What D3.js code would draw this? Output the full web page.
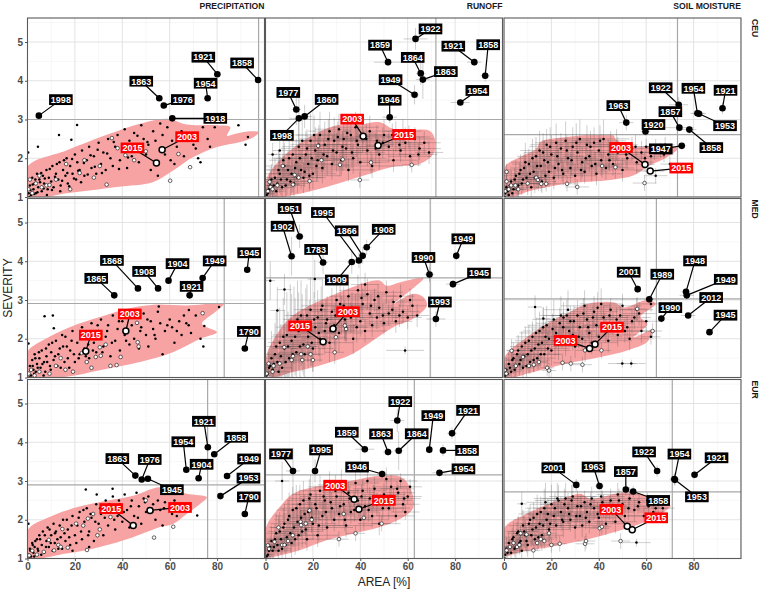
<!DOCTYPE html>
<html><head><meta charset="utf-8">
<script src="https://cdn.jsdelivr.net/npm/d3@7"></script>
<style>body{margin:0;background:#fff}svg{display:block}</style>
</head><body><svg id="c" width="760" height="590"></svg>
<script>
// ---------- DATA ----------
const rowNames = ["CEU","MED","EUR"];
const colNames = ["PRECIPITATION","RUNOFF","SOIL MOISTURE"];
const xTicks = [0,20,40,60,80];
const yTicks = [1,2,3,4,5];
const xDomain = [0,100];
const yDomain = [1,5.62];
const redYears = [2003,2015];

// threshold lines [row][col]
const thrArea = [[97.5,71.9,73.2],[83,69.5,64.3],[76,62.8,71]];
const thrSev  = [[3.0,3.0,2.61],[2.91,3.57,3.03],[2.9,3.16,2.72]];

// density regions (area, severity)
const hull_CEU_PR = [[0,1.78],[16.4,2.2],[34.7,2.63],[47.5,2.89],[58.8,3.02],[67.2,2.87],[80,2.85],[85.6,2.8],[84.2,2.58],[87,2.62],[92.7,2.69],[97.6,2.67],[95.5,2.55],[89.8,2.42],[80,2.29],[70,2.03],[61.6,1.69],[53.1,1.39],[37.6,1.26],[16.4,1.1],[0,1]];
const hull_CEU_RO = [[0.3,1.44],[7.3,2.03],[18.6,2.55],[30,2.85],[39.8,2.87],[48.3,2.93],[53.9,2.76],[62.4,2.74],[69.5,2.7],[71.6,2.46],[70.9,2.12],[65.3,1.86],[53.9,1.78],[39.8,1.52],[25.7,1.26],[11.6,1.05],[1,1]];
const hull_CEU_SM = [[0.4,1.78],[6.8,2.03],[13.8,2.25],[15.3,2.42],[26.6,2.55],[46.3,2.59],[47,2.5],[54.8,2.29],[64.7,2.33],[73.2,2.25],[68.9,2.03],[60.5,1.78],[54.8,1.56],[44.9,1.44],[26.6,1.35],[12.4,1.18],[1.1,1.02]];
const hull_MED_PR = [[0,1.66],[6.5,1.96],[17.8,2.3],[30.5,2.56],[41.8,2.77],[53.1,2.88],[67.2,2.86],[82.8,2.9],[80,2.73],[73.6,2.39],[75.7,2.3],[80,2.17],[72.9,2.0],[61.6,1.66],[47.5,1.4],[30.5,1.19],[16.4,1.02],[0,1]];
const hull_MED_RO = [[0.3,1.53],[5.9,2.22],[11.6,2.6],[21.5,2.94],[32.8,3.24],[42.7,3.46],[48.3,3.5],[51.1,3.37],[56.8,3.46],[66.7,3.57],[61,3.24],[53.9,2.9],[62.4,3.16],[66.7,3.07],[68.1,2.86],[62.4,2.52],[53.9,2.3],[45.5,1.96],[37,1.62],[25.7,1.36],[11.6,1.14],[1.7,1.02]];
const hull_MED_SM = [[0.4,1.53],[9.6,2.04],[18.1,2.39],[26.6,2.65],[35,2.9],[46.3,2.94],[50.5,2.81],[60.5,3.0],[64,2.9],[57.6,2.56],[60.5,2.39],[54.8,2.04],[62.6,2.22],[60.5,1.92],[52,1.7],[40.7,1.53],[26.6,1.36],[12.4,1.14],[1.1,1.02]];
const hull_EUR_PR = [[0,1.73],[9.3,2.07],[20.6,2.32],[33.3,2.49],[44.6,2.62],[55.9,2.84],[67.2,2.67],[75.7,2.58],[72.9,2.41],[67.2,2.15],[61.6,1.9],[55.9,1.81],[44.6,1.55],[30.5,1.3],[16.4,1.13],[0,1.04]];
const hull_EUR_RO = [[0.3,1.81],[5.9,2.32],[11.6,2.67],[20,2.84],[30,2.92],[38.4,3.03],[48.3,3.14],[56.8,3.11],[61,2.84],[62.4,2.32],[58.2,2.07],[48.3,1.81],[37,1.64],[25.7,1.47],[14.4,1.21],[5.9,1.08],[0.3,1.05]];
const hull_EUR_SM = [[0.4,1.81],[6.8,2.07],[15.3,2.32],[26.6,2.58],[32.2,2.67],[36.4,2.54],[43.5,2.62],[52,2.73],[60.5,2.62],[70.3,2.37],[66.1,2.15],[57.6,1.9],[49.2,1.73],[33.6,1.47],[19.5,1.3],[6.8,1.17],[0.4,1.08]];

// small events: precipitation [area, severity]; runoff/soil [area, severity, areaErr, sevErr]
const dots_CEU_PR = [[0.5,1.1],[1,1.3],[1.5,1.05],[2,1.5],[2.5,1.2],[3,1.35],[3.5,1.1],[4,1.6],[4.5,1.25],[5,1.45],[6,1.15],[6.5,1.55],[7,1.35],[8,1.7],[8.5,1.2],[9,1.5],[10,1.4],[10.5,1.8],[11,1.25],[12,1.6],[13,1.45],[13.5,1.9],[14,1.3],[15,1.7],[16,1.55],[16.5,2.0],[17,1.35],[18,1.8],[19,1.6],[20,2.1],[20.5,1.45],[21,1.9],[22,1.7],[23,2.2],[24,1.55],[25,1.95],[26,2.3],[27,1.75],[28,2.05],[29,1.6],[30,2.4],[31,1.85],[32,2.15],[33,1.7],[34,2.5],[35,2.0],[36,1.8],[37,2.3],[38,2.6],[39,1.95],[40,2.2],[41,2.75],[42,1.75],[43,2.45],[44,2.05],[45,2.65],[46,2.3],[47,1.9],[48,2.85],[49,2.5],[50,2.1],[51,2.35],[52,1.7],[53,2.7],[54,2.45],[55,1.55],[56,2.9],[57,2.6],[58,2.1],[59,2.8],[61,2.45],[62,1.85],[63,2.3],[65,2.7],[66,2.05],[68,2.55],[70,2.35],[72,2.0],[73,1.9],[74,2.8],[76,2.5],[77,2.3],[79,2.8],[89,2.85],[93,2.55],[92,2.35],[0.3,2.15],[4.4,2.3],[13.3,2.6],[18.5,2.48],[20.9,2.86]];
const more_CEU_PR = [[0.8,1.0],[1.2,1.18],[2.2,1.32],[2.8,1.08],[3.3,1.45],[4.2,1.12],[5.3,1.38],[5.8,1.62],[6.8,1.22],[7.3,1.48],[8.2,1.05],[9.4,1.72],[10.3,1.18],[11.6,1.52],[12.4,1.85],[13.8,1.15],[14.6,1.42],[15.4,1.95],[16.8,1.62],[17.6,1.28],[18.8,1.98],[19.6,1.48],[21.4,1.68],[22.6,1.38],[23.8,1.88],[25.4,1.58],[26.6,2.08],[28.4,1.78],[29.6,2.22],[31.4,1.62],[33.6,2.12],[36.4,2.42],[38.6,1.72],[42.4,2.02],[46.4,2.58],[50.6,2.42],[56.4,2.22],[60.4,1.95],[64.4,2.48],[71,2.25]];
const white_CEU_PR = [[0.4,1.2],[1,1.45],[2,1.1],[3.5,1.35],[5,1.55],[6,1.25],[8,1.3],[9.3,1.31],[12,1.45],[16.3,1.85],[18,1.2],[22,1.62],[24,1.95],[30.5,1.8],[33.4,1.32],[35.6,2.52],[38,2.26],[41.3,2.08],[49.9,2.18],[60.2,1.42],[63.7,2.11],[68.6,1.77],[45,1.95],[28,1.5]];
const dots_CEU_RO = [[1,1.1,3,0.3],[2,1.3,4,0.4],[3,1.2,5,0.3],[4,1.5,6,0.5],[5,1.35,4,0.4],[6,1.6,7,0.5],[7,1.25,5,0.3],[8,1.8,8,0.6],[9,1.45,6,0.4],[10,2.0,7,0.7],[11,1.6,9,0.5],[12,1.35,6,0.4],[13,1.9,8,0.6],[14,2.3,7,0.8],[15,1.7,10,0.5],[16,1.5,8,0.4],[17,2.1,9,0.6],[18,1.85,11,0.5],[19,2.45,8,0.7],[20,1.6,10,0.4],[21,2.2,12,0.6],[22,1.95,9,0.5],[23,2.6,10,0.6],[24,1.75,12,0.4],[25,2.35,11,0.6],[26,2.05,13,0.5],[27,2.7,9,0.5],[28,1.85,12,0.4],[29,2.45,14,0.6],[30,2.15,11,0.5],[31,2.75,10,0.4],[32,1.95,13,0.4],[33,2.5,12,0.5],[34,2.25,15,0.5],[35,1.7,11,0.3],[36,2.6,13,0.5],[37,2.0,14,0.4],[38,2.8,10,0.4],[39,2.35,15,0.5],[40,1.9,12,0.4],[41,2.55,13,0.4],[43,2.2,14,0.4],[44,2.7,11,0.4],[45,1.8,13,0.3],[47,2.45,12,0.4],[48,2.1,15,0.4],[50,2.6,11,0.4],[52,2.3,13,0.4],[54,1.95,10,0.3],[55,2.55,12,0.4],[57,2.2,11,0.3],[59,2.4,10,0.4],[61,2.05,9,0.3],[63,2.5,8,0.3],[65,2.25,9,0.3],[67,2.4,7,0.3],[69,2.15,6,0.3],[58,2.7,8,0.3],[6,2.2,3,0.4],[3,2.1,2,0.3]];
const more_CEU_RO = [[0.5,1.05,2,0.2],[1.5,1.2,3,0.3],[2.5,1.45,4,0.4],[3.5,1.3,5,0.4],[4.5,1.15,4,0.3],[5.5,1.7,6,0.5],[6.5,1.45,7,0.4],[7.5,1.95,6,0.6],[8.5,1.3,8,0.4],[9.5,1.7,9,0.5],[10.5,1.4,10,0.4],[11.5,2.1,8,0.6],[12.5,1.75,11,0.5],[13.5,1.5,12,0.4],[14.5,2.0,10,0.5],[15.5,2.45,8,0.6],[16.5,1.65,12,0.4],[17.5,2.25,11,0.5],[18.5,1.55,13,0.4],[19.5,2.0,12,0.5],[20.5,2.6,10,0.5],[21.5,1.8,14,0.4],[22.5,2.35,12,0.5],[24.5,2.1,14,0.4],[26.5,2.5,12,0.5],[28.5,2.2,15,0.4],[30.5,2.55,13,0.4],[32.5,2.3,15,0.4],[34.5,2.65,12,0.4],[36.5,2.15,14,0.4],[38.5,2.45,13,0.4],[42.5,2.5,12,0.4],[46.5,2.25,13,0.4],[49.5,2.4,12,0.4],[53.5,2.6,10,0.3],[56.5,2.35,10,0.3],[60.5,2.55,9,0.3],[64.5,2.1,8,0.3]];
const white_CEU_RO = [[1.7,1.39,2,0.2],[2.1,1.26,2,0.2],[1,1.15,1,0.1],[3,1.2,2,0.2],[7.3,1.8,3,0.3],[12.3,1.57,3,0.3],[11.6,1.32,3,0.2],[18.6,1.41,4,0.2],[22.2,2.32,4,0.3],[23.6,1.95,4,0.3],[31.4,1.83,4,0.3],[32.6,1.97,4,0.3],[39.8,1.44,4,0.2],[44.5,1.89,4,0.3],[61.7,1.83,4,0.2],[5,1.3,2,0.2],[14,1.5,3,0.2]];
const dots_CEU_SM = [[0.5,1.1,2,0.2],[1,1.25,3,0.3],[2,1.05,2,0.2],[3,1.4,4,0.3],[4,1.2,3,0.3],[5,1.55,5,0.4],[6,1.3,4,0.3],[7,1.7,6,0.4],[8,1.45,5,0.3],[9,1.9,6,0.5],[10,1.35,5,0.3],[11,1.6,7,0.4],[12,2.0,6,0.5],[13,1.5,8,0.4],[14,1.8,7,0.4],[15,2.2,8,0.5],[16,1.4,6,0.3],[17,1.95,9,0.5],[18,2.35,7,0.4],[19,1.65,8,0.4],[20,2.1,10,0.5],[21,1.5,8,0.3],[22,2.4,9,0.5],[23,1.85,10,0.4],[24,2.25,11,0.4],[25,1.6,9,0.3],[26,2.45,10,0.5],[27,2.0,12,0.4],[28,1.75,10,0.4],[29,2.3,11,0.5],[30,1.55,9,0.3],[31,2.15,12,0.4],[32,2.5,10,0.5],[33,1.9,11,0.4],[34,1.65,10,0.3],[35,2.35,12,0.5],[36,2.05,11,0.4],[37,1.8,13,0.4],[38,2.4,10,0.4],[39,1.6,11,0.3],[40,2.2,12,0.4],[41,1.95,10,0.4],[42,2.5,11,0.5],[43,1.75,12,0.3],[44,2.1,9,0.4],[45,2.3,10,0.4],[46,1.85,11,0.3],[48,2.15,10,0.4],[50,1.7,9,0.3],[52,2.0,8,0.3],[54,2.25,8,0.3],[56,1.9,7,0.3],[58,2.15,7,0.3],[60,2.3,6,0.2],[62,2.05,6,0.2],[64,2.3,5,0.2],[66,2.2,5,0.2],[68,2.35,4,0.2],[70,1.85,4,0.2],[64,1.55,5,0.2]];
const more_CEU_SM = [[0.3,1.0,1,0.1],[1.5,1.15,2,0.2],[2.5,1.3,3,0.2],[3.5,1.1,3,0.2],[4.5,1.45,4,0.3],[5.5,1.2,4,0.2],[6.5,1.6,5,0.3],[7.5,1.35,5,0.3],[8.5,1.75,6,0.4],[9.5,1.5,6,0.3],[10.5,1.85,7,0.4],[11.5,1.25,6,0.3],[12.5,1.65,8,0.4],[13.5,2.05,8,0.5],[14.5,1.45,7,0.3],[15.5,1.8,9,0.4],[16.5,2.15,8,0.5],[17.5,1.55,9,0.3],[18.5,1.9,10,0.4],[19.5,2.3,9,0.5],[21.5,1.75,10,0.4],[22.5,2.05,11,0.4],[24.5,1.7,10,0.3],[26.5,2.2,11,0.4],[28.5,1.95,12,0.4],[30.5,2.4,11,0.5],[32.5,1.7,10,0.3],[34.5,2.0,12,0.4],[36.5,2.3,11,0.4],[38.5,1.85,12,0.3],[40.5,2.45,11,0.4],[44.5,1.95,10,0.3],[47.5,2.35,9,0.4],[51.5,2.1,8,0.3],[55.5,2.3,7,0.3],[59.5,2.0,6,0.2],[63.5,2.15,5,0.2],[67.5,2.1,4,0.2]];
const white_CEU_SM = [[0.5,1.15,1,0.1],[1.1,1.65,2,0.2],[1.1,1.4,2,0.2],[2,1.2,2,0.1],[3,1.3,2,0.2],[4.8,1.3,3,0.2],[6,1.2,3,0.2],[10,1.35,4,0.2],[13.6,1.5,4,0.3],[14.3,1.44,4,0.2],[15.7,1.34,4,0.2],[17.8,1.34,4,0.2],[26.6,1.34,5,0.2],[30.9,1.26,5,0.2],[41.4,1.8,5,0.3],[47,1.77,5,0.3],[59.3,1.36,5,0.2]];
const dots_MED_PR = [[0.5,1.1],[1,1.3],[1.5,1.05],[2,1.45],[2.5,1.2],[3,1.6],[3.5,1.15],[4,1.35],[5,1.5],[5.5,1.25],[6,1.7],[7,1.4],[7.5,1.15],[8,1.55],[9,1.85],[9.5,1.3],[10,1.65],[11,1.45],[12,1.95],[13,1.6],[14,1.25],[15,1.8],[16,2.05],[17,1.5],[18,1.7],[19,2.2],[20,1.4],[21,1.9],[22,1.6],[23,2.3],[24,1.75],[25,2.05],[26,1.5],[27,2.4],[28,1.9],[29,1.65],[30,2.2],[31,2.5],[32,1.8],[33,2.05],[34,2.35],[35,1.55],[36,2.6],[37,1.95],[38,2.25],[39,1.7],[40,2.45],[41,2.1],[42,2.7],[43,1.85],[44,2.35],[45,2.0],[46,2.55],[47,1.75],[48,2.3],[49,2.65],[50,2.1],[51,1.8],[52,2.45],[53,2.25],[54,2.0],[55,2.7],[56,2.4],[57,1.6],[58,2.2],[60,2.5],[61,2.3],[62,1.9],[64,2.45],[65,2.1],[66,2.6],[68,2.35],[69,2.15],[71,2.6],[73,2.0],[74.2,1.8],[74.6,2.33],[80.8,2.82],[68.1,2.74],[55.4,2.83],[7.2,2.58],[10.7,2.6],[11.1,2.27],[0.4,1.88]];
const more_MED_PR = [[0.8,1.0],[1.2,1.2],[2.2,1.3],[2.8,1.1],[3.3,1.5],[4.3,1.25],[4.8,1.65],[6.3,1.35],[6.8,1.05],[7.8,1.75],[8.3,1.4],[9.8,1.2],[10.4,1.9],[11.6,1.55],[12.6,1.3],[13.6,1.75],[14.6,2.1],[15.6,1.4],[16.6,1.8],[17.6,1.25],[18.6,1.95],[19.6,1.6],[21.6,1.5],[22.6,2.15],[24.6,1.55],[25.6,1.85],[27.6,1.7],[29.6,2.35],[31.6,1.65],[33.6,2.2],[35.6,1.9],[38.6,2.45],[41.6,1.95],[44.6,2.6],[47.6,2.2],[50.6,2.5],[53.6,2.1],[59,2.35],[63,2.2],[67,2.4]];
const white_MED_PR = [[0.5,1.1],[1.5,1.2],[3,1.05],[5,1.15],[9.3,1.1],[12,1.3],[14,1.5],[16,1.2],[19.2,1.15],[22.9,1.63],[25,1.4],[28.8,1.53],[30.5,1.78],[30.9,1.56],[33,1.85],[35,1.3],[37.6,1.32],[39.3,1.53],[46.2,2.41],[46.5,1.91],[46.9,1.8],[73.9,2.66],[27,1.25]];
const dots_MED_RO = [[1,1.1,2,0.3],[2,1.3,3,0.5],[3,1.2,3,0.6],[4,1.6,4,0.8],[5,1.4,4,0.7],[6,1.9,5,0.9],[7,1.25,4,0.6],[8,1.75,5,1.0],[9,2.1,6,1.1],[10,1.5,5,0.8],[11,1.95,6,1.2],[12,2.35,6,1.0],[13,1.65,7,0.9],[14,2.2,6,1.0],[15,2.6,7,0.9],[16,1.85,8,0.8],[17,2.4,7,0.9],[18,2.05,8,0.8],[19,2.75,7,0.8],[20,1.75,9,0.6],[21,2.3,8,0.7],[22,2.55,9,0.7],[23,2.0,8,0.6],[24,2.85,9,0.7],[25,2.2,10,0.6],[26,2.5,9,0.6],[27,1.9,10,0.5],[28,2.7,9,0.6],[29,2.35,10,0.5],[30,3.0,8,0.5],[31,2.15,10,0.5],[32,2.6,9,0.5],[33,2.85,10,0.5],[34,2.3,9,0.4],[35,3.1,8,0.4],[36,2.55,10,0.4],[37,2.0,9,0.4],[38,2.75,10,0.4],[39,3.25,8,0.4],[40,2.45,9,0.4],[41,2.9,10,0.4],[42,2.2,9,0.3],[43,3.15,8,0.4],[44,2.65,9,0.3],[45,2.35,8,0.3],[46,3.0,8,0.3],[47,2.55,9,0.3],[48,2.8,8,0.3],[50,2.4,8,0.3],[51,3.2,7,0.3],[52,2.65,8,0.3],[54,2.95,7,0.3],[55,2.45,7,0.3],[57,3.1,6,0.3],[58,2.7,7,0.3],[60,2.55,6,0.3],[62,2.85,6,0.3],[64,2.6,5,0.3],[42,3.4,6,0.3],[8,3.27,3,0.4],[20.8,3.54,3,0.5],[5,2.73,3,0.6],[58.9,1.7,8,0.1],[2,3.5,2,0.5]];
const more_MED_RO = [[0.5,1.05,2,0.3],[1.5,1.25,3,0.5],[2.5,1.5,3,0.7],[3.5,1.35,4,0.6],[4.5,1.8,4,0.9],[5.5,1.15,5,0.5],[6.5,1.55,5,0.8],[7.5,2.05,5,1.0],[8.5,1.4,6,0.7],[9.5,1.8,6,0.9],[10.5,2.3,6,1.1],[11.5,1.6,7,0.8],[12.5,2.05,7,1.0],[13.5,2.5,6,1.0],[14.5,1.8,8,0.8],[15.5,2.25,8,0.9],[16.5,1.6,8,0.6],[17.5,2.6,7,0.8],[18.5,2.3,8,0.7],[19.5,1.9,9,0.6],[20.5,2.5,8,0.7],[22.5,2.15,9,0.6],[23.5,2.75,9,0.6],[25.5,2.4,10,0.6],[27.5,2.2,10,0.5],[29.5,2.6,10,0.5],[31.5,2.9,9,0.5],[33.5,2.5,10,0.5],[36.5,2.8,9,0.4],[38.5,2.3,10,0.4],[40.5,3.05,9,0.4],[44.5,2.85,9,0.3],[47.5,3.1,8,0.3],[49.5,2.6,8,0.3],[53.5,2.75,7,0.3],[56.5,2.6,7,0.3],[61,3.0,6,0.3]];
const white_MED_RO = [[0.5,1.1,1,0.2],[1.3,1.36,2,0.3],[3.4,1.3,2,0.3],[6,1.36,3,0.3],[7.9,1.78,3,0.4],[11,1.45,4,0.3],[11.6,1.55,3,0.4],[15,1.6,4,0.3],[15.5,1.45,4,0.3],[17.8,1.8,4,0.4],[19,1.6,4,0.3],[20,1.45,4,0.3],[29.2,1.65,4,0.3],[29.7,2.04,4,0.4],[33.5,2.34,4,0.4],[34,2.25,4,0.3],[3,1.15,2,0.2]];
const dots_MED_SM = [[0.5,1.05,2,0.2],[1,1.2,3,0.3],[2,1.35,3,0.3],[3,1.15,4,0.2],[4,1.5,4,0.4],[5,1.3,5,0.3],[6,1.7,5,0.4],[7,1.45,6,0.3],[8,1.25,5,0.3],[9,1.9,6,0.4],[10,1.6,6,0.4],[11,1.4,7,0.3],[12,2.05,7,0.4],[13,1.75,7,0.4],[14,1.5,8,0.3],[15,2.2,7,0.5],[16,1.9,8,0.4],[17,1.6,8,0.4],[18,2.35,8,0.5],[19,2.0,9,0.4],[20,1.7,8,0.4],[21,2.5,9,0.5],[22,2.15,9,0.4],[23,1.85,10,0.4],[24,2.6,9,0.5],[25,2.3,10,0.4],[26,1.95,9,0.4],[27,2.75,10,0.5],[28,2.45,10,0.4],[29,2.1,11,0.4],[30,1.8,10,0.3],[31,2.6,11,0.4],[32,2.3,10,0.4],[33,2.0,11,0.3],[34,2.85,10,0.4],[35,2.5,11,0.4],[36,2.15,10,0.3],[37,1.9,11,0.3],[38,2.7,10,0.4],[39,2.35,11,0.3],[40,2.05,10,0.3],[41,2.9,9,0.4],[42,2.55,10,0.3],[43,2.2,9,0.3],[44,1.95,10,0.3],[45,2.75,9,0.3],[46,2.4,9,0.3],[48,2.1,9,0.3],[49,2.6,8,0.3],[50,2.85,8,0.3],[52,2.3,8,0.3],[53,2.0,8,0.3],[55,2.55,7,0.3],[56,2.75,7,0.3],[58,2.2,6,0.3],[60,2.45,6,0.3],[62,2.9,5,0.2],[13.1,2.82,3,0.3],[16.6,2.52,3,0.3],[25.1,2.55,3,0.4],[49.9,1.36,6,0.1],[53.7,1.36,6,0.1],[62,2.05,4,0.2]];
const more_MED_SM = [[0.3,1.0,1,0.1],[1.5,1.1,2,0.2],[2.5,1.25,3,0.2],[3.5,1.45,3,0.3],[4.5,1.2,4,0.2],[5.5,1.6,4,0.3],[6.5,1.35,5,0.3],[7.5,1.8,5,0.4],[8.5,1.55,6,0.3],[9.5,1.3,6,0.3],[10.5,1.95,6,0.4],[11.5,1.7,7,0.3],[12.5,1.45,7,0.3],[13.5,2.15,7,0.4],[14.5,1.85,8,0.4],[15.5,1.6,8,0.3],[16.5,2.3,8,0.5],[17.5,2.05,8,0.4],[18.5,1.75,9,0.4],[20.5,2.25,9,0.4],[21.5,1.95,9,0.4],[23.5,2.4,10,0.4],[24.5,2.05,10,0.3],[26.5,2.6,10,0.4],[27.5,2.2,11,0.4],[29.5,2.45,11,0.4],[31.5,2.05,10,0.3],[33.5,2.65,10,0.4],[35.5,2.3,11,0.3],[37.5,2.55,10,0.3],[39.5,2.8,10,0.4],[42.5,2.35,9,0.3],[44.5,2.6,9,0.3],[47.5,2.5,9,0.3],[51,2.2,8,0.3],[54,2.45,7,0.3],[57,2.65,7,0.3]];
const white_MED_SM = [[0.3,1.19,1,0.1],[1,1.1,1,0.1],[3.2,1.69,2,0.3],[5,1.3,2,0.2],[8,1.53,3,0.2],[10.5,1.3,3,0.2],[12.6,1.33,3,0.2],[14.7,1.4,3,0.2],[18.2,1.25,3,0.2],[19,1.18,3,0.2],[24.7,1.38,4,0.2],[28.2,1.36,4,0.2],[33.1,1.33,4,0.2],[34.2,1.7,4,0.3],[41.1,1.7,4,0.2],[56.2,2.77,4,0.3],[62.7,2.2,4,0.2]];
const dots_EUR_PR = [[0.5,1.1],[1,1.25],[1.5,1.05],[2,1.4],[2.5,1.15],[3,1.3],[4,1.5],[4.5,1.2],[5,1.6],[6,1.35],[6.5,1.7],[7,1.15],[8,1.45],[8.5,1.8],[9,1.3],[10,1.6],[11,1.9],[11.5,1.4],[12,1.7],[13,1.25],[14,1.55],[15,2.0],[16,1.45],[17,1.75],[18,1.35],[19,2.1],[20,1.6],[21,1.85],[22,2.2],[23,1.5],[24,1.95],[25,2.3],[26,1.7],[27,2.05],[28,1.45],[29,2.4],[30,1.9],[31,2.15],[32,1.6],[33,2.5],[34,1.85],[35,2.25],[36,2.6],[37,1.75],[38,2.1],[39,2.4],[40,1.95],[41,2.65],[42,2.25],[43,1.8],[44,2.5],[45,2.1],[46,2.7],[47,2.35],[48,1.9],[49,2.55],[50,2.2],[51,2.6],[53,2.4],[54,2.0],[55,2.5],[56,2.25],[57,1.85],[58,2.45],[60,2.3],[62,2.5],[63,2.1],[65,2.35],[24.6,2.78],[35.9,2.8],[29.2,2.65],[71.6,2.11],[0.4,1.9],[19,1.2],[26,1.3]];
const more_EUR_PR = [[0.8,1.0],[1.2,1.2],[2.2,1.35],[2.8,1.05],[3.3,1.45],[4.3,1.25],[5.3,1.5],[5.8,1.1],[7.3,1.6],[7.8,1.3],[9.3,1.75],[9.8,1.4],[10.6,1.2],[11.6,1.65],[12.6,1.5],[13.6,1.85],[14.6,1.25],[15.6,1.65],[16.6,2.0],[17.6,1.55],[18.6,1.85],[20.6,1.4],[21.6,2.05],[22.6,1.7],[23.6,2.25],[25.6,1.6],[26.6,2.15],[28.6,1.95],[30.6,2.3],[32.6,2.05],[34.6,2.4],[36.6,2.0],[38.6,2.5],[40.6,2.2],[43.6,2.35],[46.6,2.05],[49.6,2.45],[52.6,2.2],[57.6,2.3],[61,2.15]];
const white_EUR_PR = [[0.7,1.08],[2,1.2],[4,1.1],[6.9,1.17],[9,1.48],[11.2,1.21],[13,1.35],[14,1.3],[14.7,1.76],[20.5,1.9],[23.5,1.85],[25.1,1.22],[25.5,2.03],[27.7,2.15],[29.5,1.6],[30.5,1.75],[35,2.07],[49.9,2.5],[53.4,1.54],[61.5,1.82],[17,1.28]];
const dots_EUR_RO = [[1,1.1,2,0.2],[2,1.3,3,0.3],[3,1.2,3,0.3],[4,1.5,4,0.4],[5,1.35,4,0.3],[6,1.7,5,0.5],[7,1.25,4,0.3],[8,1.9,6,0.5],[9,1.55,5,0.4],[10,2.1,6,0.6],[11,1.4,6,0.4],[12,1.8,7,0.5],[13,2.3,7,0.6],[14,1.6,8,0.4],[15,2.05,8,0.5],[16,2.5,7,0.5],[17,1.75,9,0.4],[18,2.2,9,0.5],[19,2.65,8,0.5],[20,1.9,10,0.4],[21,2.4,10,0.5],[22,1.6,9,0.3],[23,2.75,9,0.4],[24,2.1,11,0.4],[25,2.5,10,0.4],[26,1.8,11,0.3],[27,2.85,9,0.4],[28,2.3,11,0.4],[29,2.0,12,0.3],[30,2.6,11,0.4],[31,2.15,12,0.3],[32,2.9,10,0.4],[33,2.4,12,0.3],[34,1.85,11,0.3],[35,2.7,11,0.3],[36,2.2,12,0.3],[38,2.95,10,0.3],[39,2.5,11,0.3],[40,2.0,12,0.3],[41,2.75,10,0.3],[42,2.35,11,0.3],[43,3.0,9,0.3],[44,2.55,10,0.3],[45,2.1,10,0.3],[46,2.8,9,0.3],[47,2.4,10,0.3],[48,1.9,9,0.3],[50,2.65,9,0.3],[51,3.05,8,0.3],[52,2.3,9,0.3],[53,2.85,8,0.3],[54,2.5,8,0.3],[55,2.1,8,0.2],[56,2.7,7,0.2],[57,3.0,7,0.2],[58,2.4,7,0.2],[60,2.6,6,0.2],[61,2.85,5,0.2],[59,2.2,6,0.2],[7,3.0,3,0.5]];
const more_EUR_RO = [[0.5,1.05,2,0.2],[1.5,1.2,3,0.3],[2.5,1.45,3,0.4],[3.5,1.3,4,0.3],[4.5,1.65,4,0.5],[5.5,1.2,5,0.3],[6.5,1.5,5,0.4],[7.5,1.8,6,0.5],[8.5,1.35,6,0.4],[9.5,2.0,6,0.5],[10.5,1.65,7,0.5],[11.5,2.25,7,0.6],[12.5,1.5,8,0.4],[13.5,1.95,8,0.5],[14.5,2.4,7,0.5],[15.5,1.7,9,0.4],[16.5,2.15,9,0.5],[17.5,1.5,10,0.3],[18.5,2.55,8,0.5],[19.5,2.05,10,0.4],[21.5,2.3,10,0.4],[22.5,1.85,11,0.4],[24.5,2.6,10,0.4],[25.5,2.2,11,0.4],[27.5,2.45,11,0.4],[29.5,2.75,10,0.4],[31.5,2.35,12,0.3],[33.5,2.0,11,0.3],[35.5,2.55,11,0.3],[37.5,2.25,12,0.3],[40.5,2.6,11,0.3],[43.5,2.25,10,0.3],[45.5,2.6,10,0.3],[49.5,2.3,9,0.3],[52.5,2.55,8,0.3],[55.5,2.8,7,0.2],[58.5,2.55,7,0.2]];
const white_EUR_RO = [[1,1.34,2,0.2],[1.5,1.25,2,0.2],[3.8,1.43,2,0.2],[5.5,1.8,3,0.3],[7,1.35,3,0.2],[8,1.35,3,0.2],[9.5,1.45,3,0.2],[11.5,1.6,3,0.3],[14.8,1.95,4,0.3],[15,1.86,4,0.3],[17,1.9,4,0.3],[18.6,2.24,4,0.3],[19.5,2.0,4,0.3],[31,1.5,4,0.2],[33,2.15,4,0.3],[38,1.65,4,0.2],[41.5,2.05,4,0.3],[49,1.9,4,0.2]];
const dots_EUR_SM = [[0.5,1.1,2,0.2],[1,1.25,3,0.3],[2,1.4,3,0.3],[3,1.15,4,0.2],[4,1.55,4,0.4],[5,1.3,5,0.3],[6,1.7,5,0.4],[7,1.45,6,0.3],[7.5,2.41,2,0.3],[8,1.85,6,0.4],[9,1.6,6,0.4],[10,1.35,7,0.3],[11,2.0,7,0.4],[12,1.75,7,0.4],[13,1.5,8,0.3],[14,2.15,8,0.5],[15,1.9,8,0.4],[16,1.6,9,0.4],[17,2.3,8,0.5],[18,2.0,9,0.4],[19,1.75,9,0.4],[20,2.4,9,0.5],[21,2.1,10,0.4],[22,1.85,9,0.4],[23,2.5,10,0.4],[24,2.2,10,0.4],[25,1.95,11,0.4],[26,2.55,10,0.4],[27,2.3,11,0.4],[28,2.0,10,0.3],[29,2.6,10,0.4],[30,1.8,11,0.3],[31,2.35,11,0.4],[32,2.1,12,0.3],[33,1.85,11,0.3],[34,2.45,11,0.3],[35,2.2,12,0.3],[36,1.95,11,0.3],[37,2.55,10,0.3],[38,2.3,11,0.3],[40,2.05,10,0.3],[41,2.6,10,0.3],[42,2.35,10,0.3],[43,1.9,10,0.3],[45,2.5,9,0.3],[46,2.2,9,0.3],[47,1.95,9,0.3],[48,2.65,9,0.3],[50,2.4,8,0.3],[51,2.1,8,0.3],[53,2.55,8,0.3],[55,2.25,7,0.3],[57,2.45,7,0.2],[59,2.1,7,0.2],[61,2.35,6,0.2],[63,2.2,6,0.2],[65,2.4,5,0.2],[67,2.3,5,0.2],[55.9,1.41,6,0.1]];
const more_EUR_SM = [[0.3,1.0,1,0.1],[1.5,1.15,2,0.2],[2.5,1.3,3,0.2],[3.5,1.5,3,0.3],[4.5,1.25,4,0.2],[5.5,1.65,4,0.3],[6.5,1.4,5,0.3],[7.5,1.2,5,0.2],[8.5,1.7,6,0.4],[9.5,1.45,6,0.3],[10.5,1.9,6,0.4],[11.5,1.6,7,0.3],[12.5,2.05,7,0.4],[13.5,1.8,7,0.4],[14.5,1.55,8,0.3],[15.5,2.2,8,0.4],[16.5,1.85,8,0.4],[17.5,2.45,8,0.5],[18.5,2.15,9,0.4],[19.5,1.9,9,0.4],[21.5,2.3,9,0.4],[22.5,2.55,10,0.4],[24.5,2.0,10,0.3],[25.5,2.4,10,0.4],[27.5,2.15,11,0.4],[28.5,2.5,10,0.4],[30.5,2.1,11,0.3],[32.5,2.35,11,0.3],[34.5,2.05,11,0.3],[36.5,2.4,10,0.3],[39.5,2.15,10,0.3],[41.5,2.45,10,0.3],[44.5,2.3,9,0.3],[48.5,2.5,8,0.3],[52.5,2.3,8,0.3],[56.5,2.35,7,0.2],[60.5,2.5,6,0.2],[64,2.3,5,0.2]];
const white_EUR_SM = [[1.1,1.21,1,0.1],[2.5,1.3,2,0.2],[4,1.4,2,0.2],[5.5,1.3,2,0.2],[6.5,1.35,2,0.2],[7,1.65,3,0.2],[9.5,1.62,3,0.2],[12.4,1.21,3,0.2],[14,1.4,3,0.2],[15.5,1.5,3,0.2],[17,1.45,3,0.2],[19,1.65,3,0.2],[20,1.35,3,0.2],[23.5,1.38,3,0.2],[34.2,1.38,4,0.2],[34.6,1.45,4,0.2],[40.4,1.78,4,0.2],[41.3,1.82,4,0.2],[49.2,1.45,4,0.2]];

// labelled events [year, area, severity, areaErr, sevErr]
const ev_CEU_PR = [[1998,4.8,3.10],[1863,55.6,3.55],[1976,57.5,3.36],[1921,80.1,4.17],[1954,76,3.55],[1858,97.3,4.02],[1918,61.1,3.03],[2015,54.4,1.88],[2003,56.8,2.22]];
const ev_CEU_RO = [[1922,63.3,5.08,5,0.28],[1859,51.7,4.48,6,0.1],[1864,65.5,4.19,2,0.3],[1863,66.4,4.03,3,0.5],[1921,88.1,4.48,3,0.1],[1858,92.7,4.13,2,0.15],[1949,62.9,3.64,2,0.25],[1954,82.2,3.44,4,0.05],[1977,13,3.26,2,0.4],[1860,16.5,3.08,3,0.3],[1998,14.1,3.03,4,0.75],[1946,52.4,3.06,3,0.15],[2003,41.2,2.57,3,0.2],[2015,47.5,2.33,5,0.2]];
const ev_CEU_SM = [[1922,73.7,3.38,4,0.2],[1954,81.6,3.16,3,0.1],[1921,92.2,3.29,1,0.15],[1857,74,2.79,6,0.1],[1953,82.3,3.15,3,0.1],[1963,51.6,2.92,3,0.2],[1920,59.7,2.69,2,0.1],[1858,78.2,2.74,3,0.1],[1947,75,2.32,2,0.05],[2003,59.5,1.84,4,0.2],[2015,61.7,1.67,6,0.05]];
const ev_MED_PR = [[1868,46.6,3.30],[1865,36.6,3.12],[1908,55.1,3.30],[1904,59.5,3.50],[1921,68.4,3.12],[1949,73.9,3.57],[1945,92.7,3.78],[1790,91.7,1.75],[2003,41.5,2.2],[2015,24.6,1.68]];
const ev_MED_RO = [[1951,14.4,4.64,2,0.3],[1902,11,4.13,2,0.5],[1995,39.4,4.02,1,0.2],[1866,41,4.14,1,0.2],[1908,42.7,4.36,2,0.2],[1783,24.3,3.97,2,0.3],[1909,36.4,3.98,2,0.3],[1990,69.2,3.66,2,0.2],[1949,80.5,4.14,1,0.1],[1945,79.1,3.41,3,0.1],[1993,71.9,2.51,4,0.2],[2003,28.5,2.26,2,0.2],[2015,24.3,1.92,2,0.2]];
const ev_MED_SM = [[2001,56.4,3.28,1,0.1],[1989,61.3,3.02,2,0.1],[1948,76.8,3.21,2,0.1],[1949,77.1,3.12,3,0.1],[2012,77.7,2.6,3,0.05],[1990,66.4,2.52,1,0.1],[1945,86.7,2.17,1,0.05],[2015,38.4,1.86,2,0.1],[2003,36.1,1.75,2,0.1]];
const ev_EUR_PR = [[1921,76.1,3.87],[1858,78.8,3.69],[1954,67,3.29],[1904,72.2,3.07],[1863,45.5,3.14],[1976,48.2,3.04],[1945,50.8,3.06],[1949,84.2,3.13],[1953,81.4,2.61],[1790,91.7,2.15],[2015,44.6,1.85],[2003,51.7,2.24]];
const ev_EUR_RO = [[1922,55.6,4.56,3,0.3],[1921,78.7,4.23,2,0.15],[1949,69.1,3.81,1,0.1],[1859,41.9,3.82,4,0.1],[1863,51.7,3.75,2,0.1],[1864,56.2,3.78,2,0.5],[1858,74.9,3.79,1,0.15],[1977,11.6,3.26,3,0.6],[1995,20.9,3.26,1,0.3],[1946,49.2,3.18,2,0.1],[1954,73.4,3.21,3,0.05],[2003,37.4,2.53,2,0.2],[2015,39.4,2.27,3,0.2]];
const ev_EUR_SM = [[1922,64.6,3.26,1,0.15],[1954,71.9,3.05,2,0.15],[1953,72.1,3.03,2,0.15],[1921,80.4,3.16,1,0.1],[2001,30.5,2.9,1,0.15],[1963,40.3,2.87,2,0.1],[1857,51.4,2.78,1,0.15],[1858,54.5,2.73,1,0.15],[2003,52,1.83,2,0.1],[2015,54.1,1.74,2,0.1]];

// label placement offsets (px), same order as the events above
const nudge_CEU_PR = [[22,-16],[-18,-17],[19,-6],[-14,-17],[-2,-15],[-16,-17],[43,0],[-24,-15],[25,-13]];
const nudge_CEU_RO = [[15,-10],[-8,-17],[-8,-16],[23,-8],[-21,-16],[3,-31],[-24,-15],[17,-12],[-8,-17],[22,-17],[-17,17],[0,-17],[-11,-17],[26,-11]];
const nudge_CEU_SM = [[-18,-17],[-4,-25],[3,-18],[-9,-16],[26,12],[-8,-17],[8,-7],[22,18],[-21,3],[-24,-17],[31,-3]];
const nudge_MED_PR = [[-26,-28],[-18,-17],[-14,-17],[9,-17],[2,-9],[12,-17],[2,-17],[4,-17],[4,-17],[5,-16]];
const nudge_MED_RO = [[-10,-28],[-9,-30],[-36,-48],[-16,-25],[17,-18],[-7,-13],[-15,18],[-6,-17],[7,-17],[26,-11],[4,-17],[15,-17],[-23,-16]];
const nudge_MED_SM = [[-9,-17],[13,-25],[9,-31],[39,-16],[23,-18],[9,-11],[16,-17],[17,-17],[-24,-8]];
const nudge_EUR_PR = [[-4,-26],[22,-17],[-3,-28],[3,-14],[-18,-17],[8,-20],[24,11],[22,-17],[28,-18],[4,-17],[-22,-17],[30,-3]];
const nudge_EUR_RO = [[3,-19],[16,-23],[4,-34],[-18,-17],[-7,-18],[18,-17],[24,0],[-12,-17],[6,-21],[-25,-7],[24,-4],[-19,-14],[25,-9]];
const nudge_EUR_SM = [[-13,-19],[5,-25],[22,17],[22,-17],[-23,-17],[-6,-19],[0,-18],[25,9],[-16,-17],[24,-12]];

// ---------- DRAW ----------
const panels = [
 {r:0,c:0,hull:hull_CEU_PR,dots:dots_CEU_PR.concat(more_CEU_PR),white:white_CEU_PR,ev:ev_CEU_PR,nudge:nudge_CEU_PR},
 {r:0,c:1,hull:hull_CEU_RO,dots:dots_CEU_RO.concat(more_CEU_RO),white:white_CEU_RO,ev:ev_CEU_RO,nudge:nudge_CEU_RO},
 {r:0,c:2,hull:hull_CEU_SM,dots:dots_CEU_SM.concat(more_CEU_SM),white:white_CEU_SM,ev:ev_CEU_SM,nudge:nudge_CEU_SM},
 {r:1,c:0,hull:hull_MED_PR,dots:dots_MED_PR.concat(more_MED_PR),white:white_MED_PR,ev:ev_MED_PR,nudge:nudge_MED_PR},
 {r:1,c:1,hull:hull_MED_RO,dots:dots_MED_RO.concat(more_MED_RO),white:white_MED_RO,ev:ev_MED_RO,nudge:nudge_MED_RO},
 {r:1,c:2,hull:hull_MED_SM,dots:dots_MED_SM.concat(more_MED_SM),white:white_MED_SM,ev:ev_MED_SM,nudge:nudge_MED_SM},
 {r:2,c:0,hull:hull_EUR_PR,dots:dots_EUR_PR.concat(more_EUR_PR),white:white_EUR_PR,ev:ev_EUR_PR,nudge:nudge_EUR_PR},
 {r:2,c:1,hull:hull_EUR_RO,dots:dots_EUR_RO.concat(more_EUR_RO),white:white_EUR_RO,ev:ev_EUR_RO,nudge:nudge_EUR_RO},
 {r:2,c:2,hull:hull_EUR_SM,dots:dots_EUR_SM.concat(more_EUR_SM),white:white_EUR_SM,ev:ev_EUR_SM,nudge:nudge_EUR_SM}
];
const colX=[27.5,265.5,504], rowY=[18,198.5,379.5], PW=237, PH=179;
const FONT='"Liberation Sans", Arial, Helvetica, sans-serif';
const svg=d3.select("#c").style("font-family",FONT);
svg.append("rect").attr("width",760).attr("height",590).attr("fill","#fff");
const defs=svg.append("defs");
const PINK="#f7a3a3";

panels.forEach((p,i)=>{
  const x0=colX[p.c], y0=rowY[p.r];
  const x=d3.scaleLinear().domain(xDomain).range([x0,x0+PW]);
  const y=d3.scaleLinear().domain(yDomain).range([y0+PH,y0]);
  defs.append("clipPath").attr("id","cp"+i).append("rect").attr("x",x0).attr("y",y0).attr("width",PW).attr("height",PH);
  const g=svg.append("g");
  const gc=g.append("g").attr("clip-path",`url(#cp${i})`);
  const xMinor=d3.range(10,100,20), xMajor=d3.range(0,101,20);
  const yMinor=d3.range(1.5,5.6,1), yMajor=d3.range(1,5.1,1);
  gc.selectAll(null).data(xMinor).join("line").attr("x1",d=>x(d)).attr("x2",d=>x(d)).attr("y1",y0).attr("y2",y0+PH).attr("stroke","#f2f2f2").attr("stroke-width",0.6);
  gc.selectAll(null).data(yMinor).join("line").attr("y1",d=>y(d)).attr("y2",d=>y(d)).attr("x1",x0).attr("x2",x0+PW).attr("stroke","#f2f2f2").attr("stroke-width",0.6);
  gc.selectAll(null).data(xMajor).join("line").attr("x1",d=>x(d)).attr("x2",d=>x(d)).attr("y1",y0).attr("y2",y0+PH).attr("stroke","#e3e3e3").attr("stroke-width",1);
  gc.selectAll(null).data(yMajor).join("line").attr("y1",d=>y(d)).attr("y2",d=>y(d)).attr("x1",x0).attr("x2",x0+PW).attr("stroke","#e3e3e3").attr("stroke-width",1);
  const area=d3.line().x(d=>x(d[0])).y(d=>y(d[1])).curve(d3.curveCatmullRomClosed.alpha(0.5));
  gc.append("path").attr("d",area(p.hull)).attr("fill",PINK);
  gc.append("line").attr("x1",x(thrArea[p.r][p.c])).attr("x2",x(thrArea[p.r][p.c])).attr("y1",y0).attr("y2",y0+PH).attr("stroke","#a8a8a8").attr("stroke-width",1.2);
  gc.append("line").attr("y1",y(thrSev[p.r][p.c])).attr("y2",y(thrSev[p.r][p.c])).attr("x1",x0).attr("x2",x0+PW).attr("stroke","#a8a8a8").attr("stroke-width",1.2);
  if(p.c>0){
    const allErr=p.dots.concat(p.white).concat(p.ev.map(e=>e.slice(1)));
    const eb=gc.append("g").attr("stroke","#444").attr("stroke-opacity",0.33).attr("stroke-width",0.8);
    eb.selectAll(null).data(allErr).join("line").attr("x1",d=>x(d[0]-d[2])).attr("x2",d=>x(d[0]+d[2])).attr("y1",d=>y(d[1])).attr("y2",d=>y(d[1]));
    eb.selectAll(null).data(allErr).join("line").attr("y1",d=>y(d[1]-d[3])).attr("y2",d=>y(d[1]+d[3])).attr("x1",d=>x(d[0])).attr("x2",d=>x(d[0]));
  }
  gc.selectAll(null).data(p.dots).join("circle").attr("cx",d=>x(d[0])).attr("cy",d=>y(d[1])).attr("r",1.25).attr("fill","#000");
  gc.selectAll(null).data(p.white).join("circle").attr("cx",d=>x(d[0])).attr("cy",d=>y(d[1])).attr("r",1.8).attr("fill","#fff").attr("stroke","#222").attr("stroke-width",0.7);
  const evs=p.ev.map((e,k)=>({year:e[0],px:x(e[1]),py:y(e[2]),lx:x(e[1])+p.nudge[k][0],ly:y(e[2])+p.nudge[k][1],red:redYears.includes(e[0])}));
  g.selectAll(null).data(evs).join("line").attr("x1",d=>d.px).attr("y1",d=>d.py).attr("x2",d=>d.lx).attr("y2",d=>d.ly).attr("stroke","#000").attr("stroke-width",1.2);
  g.selectAll(null).data(evs.filter(d=>!d.red)).join("circle").attr("cx",d=>d.px).attr("cy",d=>d.py).attr("r",3.3).attr("fill","#000");
  g.selectAll(null).data(evs.filter(d=>d.red)).join("circle").attr("cx",d=>d.px).attr("cy",d=>d.py).attr("r",3).attr("fill","#fff").attr("stroke","#000").attr("stroke-width",1.5);
  const lab=g.selectAll(null).data(evs).join("g").attr("transform",d=>`translate(${d.lx},${d.ly})`);
  lab.append("rect").attr("x",-11.8).attr("y",-5.4).attr("width",23.6).attr("height",10.8).attr("fill",d=>d.red?"#ff0000":"#000");
  lab.append("text").attr("text-anchor","middle").attr("dy","3.3").attr("fill","#fff").attr("font-size",9).attr("font-weight","bold").text(d=>d.year);
  g.append("rect").attr("x",x0).attr("y",y0).attr("width",PW).attr("height",PH).attr("fill","none").attr("stroke","#5a5a5a").attr("stroke-width",1.1);
  if(p.c===0){
    const ax=g.append("g").attr("transform",`translate(${x0},0)`).call(d3.axisLeft(y).tickValues(yTicks).tickFormat(d3.format("d")).tickSize(2.5).tickPadding(2));
    ax.select(".domain").remove();
    ax.selectAll("line").attr("stroke","#555");
    ax.selectAll("text").attr("fill","#4d4d4d").attr("font-size",10).attr("font-weight","bold").attr("font-family",FONT);
  }
  if(p.r===2){
    const ax=g.append("g").attr("transform",`translate(0,${y0+PH})`).call(d3.axisBottom(x).tickValues(xTicks).tickFormat(d3.format("d")).tickSize(2.5).tickPadding(2));
    ax.select(".domain").remove();
    ax.selectAll("line").attr("stroke","#555");
    ax.selectAll("text").attr("fill","#4d4d4d").attr("font-size",10).attr("font-weight","bold").attr("font-family",FONT);
  }
});
svg.selectAll(null).data(colNames).join("text").attr("x",(d,i)=>colX[i]+PW).attr("y",8.6).attr("text-anchor","end").attr("font-size",8.6).attr("font-weight","bold").attr("fill","#1a1a1a").text(d=>d);
svg.selectAll(null).data(rowNames).join("text").attr("transform",(d,i)=>`translate(751.5,${rowY[i]+1}) rotate(90)`).attr("text-anchor","start").attr("font-size",8.6).attr("font-weight","bold").attr("fill","#1a1a1a").text(d=>d);
svg.append("text").attr("transform","translate(11.5,288) rotate(-90)").attr("text-anchor","middle").attr("font-size",12).attr("fill","#222").text("SEVERITY");
svg.append("text").attr("x",colX[1]+PW/2).attr("y",586).attr("text-anchor","middle").attr("font-size",12).attr("fill","#222").text("AREA [%]");
</script></body></html>
